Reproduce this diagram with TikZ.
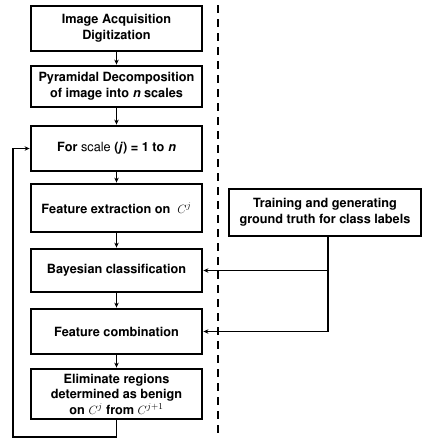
\documentclass[tikz,border=0pt]{standalone}
\usepackage[T1]{fontenc}
\usepackage{helvet}
\renewcommand{\familydefault}{\sfdefault}
\usetikzlibrary{arrows.meta}
\begin{document}
\begin{tikzpicture}[x=1pt,y=1pt,
  box/.style={draw,line width=2.8pt,minimum width=171pt,align=center,inner sep=0pt,
    font=\fontsize{12.7pt}{15.5pt}\selectfont\sffamily\bfseries},
  conn/.style={line width=1.1pt,-{Stealth[length=5pt,width=4.5pt]}}]
\useasboundingbox (0,0) rectangle (429,-439);
\node[box,minimum height=45pt] (b1) at (116.5,-28.5) {Image Acquisition\\Digitization};
\node[box,minimum height=41pt] (b2) at (116.5,-86.5) {Pyramidal Decomposition\\of image into \textit{n} scales};
\node[box,minimum height=45pt] (b3) at (116.5,-148.5) {For {\mdseries scale} (\textit{j}) = 1 to \textit{n}};
\node[box,minimum height=48pt] (b4) at (116.5,-208) {Feature extraction on \ $C^j$};
\node[box,minimum height=43pt] (b5) at (116.5,-270.5) {Bayesian classification};
\node[box,minimum height=45pt] (b6) at (116.5,-331.5) {Feature combination};
\node[box,minimum height=50pt] (b7) at (116.5,-394) {Eliminate regions\\determined as benign\\on $C^j$ from $C^{j+1}$};
\node[box,minimum width=192pt,minimum height=47pt] (tr) at (325,-212.5) {Training and generating\\ground truth for class labels};
\coordinate (dt) at (218,-5);
\coordinate (db) at (218,-437);
\draw[line width=2.8pt,dash pattern=on 8pt off 6pt] (dt) -- (db);
\draw[conn] (b1) -- (b2);
\draw[conn] (b2) -- (b3);
\draw[conn] (b3) -- (b4);
\draw[conn] (b4) -- (b5);
\draw[conn] (b5) -- (b6);
\draw[conn] (b6) -- (b7);
\coordinate (tj) at (328,-237);
\coordinate (lp) at (13,-437);
\draw[conn] (tj) |- (b5.east);
\draw[conn] (tj) |- (b6.east);
\draw[conn] (b7.south) |- (lp) |- (b3.west);
\end{tikzpicture}
\end{document}
